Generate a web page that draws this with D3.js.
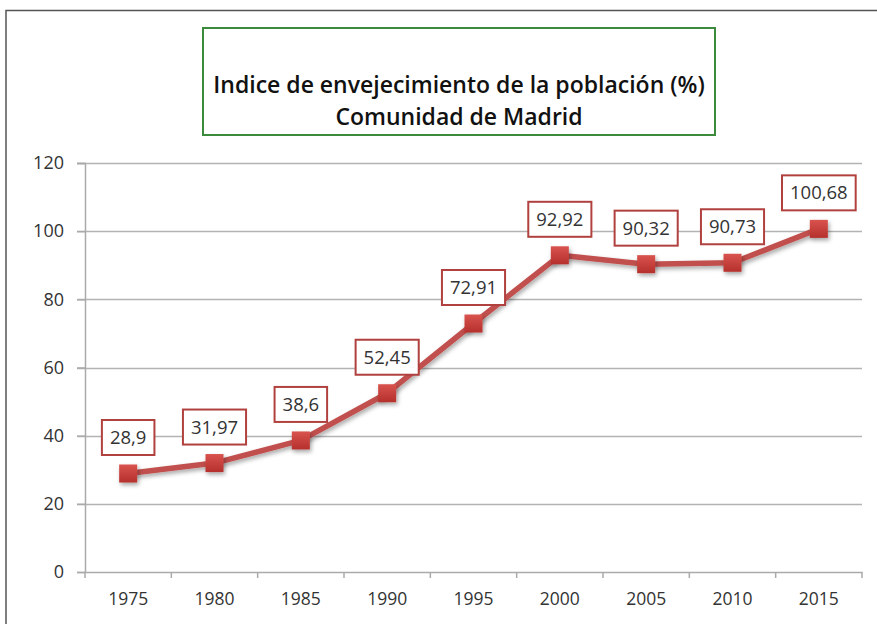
<!DOCTYPE html>
<html>
<head>
<meta charset="utf-8">
<script src="https://cdn.jsdelivr.net/npm/d3@7"></script>
<style>
  body { margin: 0; background: #fff; }
  svg { display: block; }
</style>
</head>
<body>
<svg id="chart" width="877" height="624"></svg>
<script>
const years = ["1975", "1980", "1985", "1990", "1995", "2000", "2005", "2010", "2015"];
const values = [28.9, 31.97, 38.6, 52.45, 72.91, 92.92, 90.32, 90.73, 100.68];
const labels = ["28,9", "31,97", "38,6", "52,45", "72,91", "92,92", "90,32", "90,73", "100,68"];
const yTicks = [0, 20, 40, 60, 80, 100, 120];
const titleLines = ["Indice de envejecimiento de la población (%)", "Comunidad de Madrid"];

const font = "'Open Sans', 'Liberation Sans', sans-serif";
const red = "#c0504d";

const svg = d3.select("#chart");

// outer frame
svg.append("path")
  .attr("d", "M6,624 V10.5 H877")
  .attr("fill", "none")
  .attr("stroke", "#555")
  .attr("stroke-width", 1.5);

const margin = { left: 85, right: 15, top: 163, bottom: 52 };
const width = 877 - margin.left - margin.right;
const height = 624 - margin.top - margin.bottom;

const x = d3.scaleBand().domain(years).range([margin.left, margin.left + width]);
const y = d3.scaleLinear().domain([0, 120]).range([margin.top + height, margin.top]);

// gridlines
svg.append("g")
  .selectAll("line")
  .data(yTicks.filter(d => d > 0))
  .join("line")
  .attr("x1", margin.left - 8)
  .attr("x2", margin.left + width)
  .attr("y1", d => Math.round(y(d)) + 0.5)
  .attr("y2", d => Math.round(y(d)) + 0.5)
  .attr("stroke", "#b3b3b3")
  .attr("stroke-width", 1.5);

// y axis
const yAxis = svg.append("g")
  .attr("transform", `translate(${margin.left},0)`)
  .call(d3.axisLeft(y).tickValues(yTicks).tickSize(8).tickPadding(13));
yAxis.select(".domain").attr("stroke", "#aaa").attr("stroke-width", 1.5);
yAxis.selectAll(".tick line").attr("stroke", "#aaa").attr("stroke-width", 1.5);
yAxis.selectAll("text")
  .attr("font-family", font)
  .attr("font-size", 18)
  .attr("fill", "#333");

// x axis
const xAxis = svg.append("g")
  .attr("transform", `translate(0,${margin.top + height})`)
  .call(d3.axisBottom(x).tickSize(0).tickPadding(21));
xAxis.select(".domain").attr("stroke", "#aaa").attr("stroke-width", 1.5);
xAxis.selectAll("text")
  .attr("font-family", font)
  .attr("font-size", 17.5)
  .attr("fill", "#333");
// tick marks at category boundaries
xAxis.append("g")
  .selectAll("line")
  .data(years.concat(["end"]))
  .join("line")
  .attr("x1", (d, i) => margin.left + i * x.step())
  .attr("x2", (d, i) => margin.left + i * x.step())
  .attr("y1", 0)
  .attr("y2", 6)
  .attr("stroke", "#aaa")
  .attr("stroke-width", 1.5);

const cx = d => x(d) + x.bandwidth() / 2;

// shadow filter
const defs = svg.append("defs");
const f = defs.append("filter").attr("id", "shadow").attr("x", "-30%").attr("y", "-30%").attr("width", "170%").attr("height", "170%");
f.append("feDropShadow").attr("dx", 1.5).attr("dy", 2.5).attr("stdDeviation", 2).attr("flood-color", "#000").attr("flood-opacity", 0.35);

const grad = defs.append("linearGradient").attr("id", "mk").attr("x1", 0).attr("y1", 0).attr("x2", 0).attr("y2", 1);
grad.append("stop").attr("offset", "0%").attr("stop-color", "#d9534f");
grad.append("stop").attr("offset", "100%").attr("stop-color", "#b5302c");

// line
const line = d3.line()
  .x((d, i) => cx(years[i]))
  .y(d => y(d));

svg.append("path")
  .datum(values)
  .attr("d", line)
  .attr("fill", "none")
  .attr("stroke", red)
  .attr("stroke-width", 5.5)
  .attr("stroke-linejoin", "round")
  .attr("filter", "url(#shadow)");

// markers
svg.append("g")
  .selectAll("rect")
  .data(values)
  .join("rect")
  .attr("x", (d, i) => cx(years[i]) - 9)
  .attr("y", d => y(d) - 9)
  .attr("width", 18)
  .attr("height", 18)
  .attr("fill", "url(#mk)")
  .attr("filter", "url(#shadow)");

// data labels
const lab = svg.append("g")
  .selectAll("g")
  .data(values)
  .join("g")
  .attr("transform", (d, i) => `translate(${cx(years[i])},${y(d) - 36})`);

lab.append("text")
  .text((d, i) => labels[i])
  .attr("text-anchor", "middle")
  .attr("dy", "0.35em")
  .attr("font-family", font)
  .attr("font-size", 18.5)
  .attr("fill", "#333");

lab.each(function () {
  const g = d3.select(this);
  const bb = g.select("text").node().getBBox();
  g.insert("rect", "text")
    .attr("x", bb.x - 8)
    .attr("y", -17.5)
    .attr("width", bb.width + 16)
    .attr("height", 35)
    .attr("fill", "#fff")
    .attr("stroke", "#b0413e")
    .attr("stroke-width", 2);
});

// title box
svg.append("rect")
  .attr("x", 203)
  .attr("y", 28)
  .attr("width", 512)
  .attr("height", 107)
  .attr("fill", "#fff")
  .attr("stroke", "#3c8a3c")
  .attr("stroke-width", 2);

svg.append("g")
  .selectAll("text")
  .data(titleLines)
  .join("text")
  .attr("x", 459)
  .attr("y", (d, i) => 93 + i * 32)
  .attr("text-anchor", "middle")
  .attr("font-family", font)
  .attr("font-weight", 600)
  .attr("font-size", 23)
  .attr("fill", "#111")
  .text(d => d);
</script>
</body>
</html>
